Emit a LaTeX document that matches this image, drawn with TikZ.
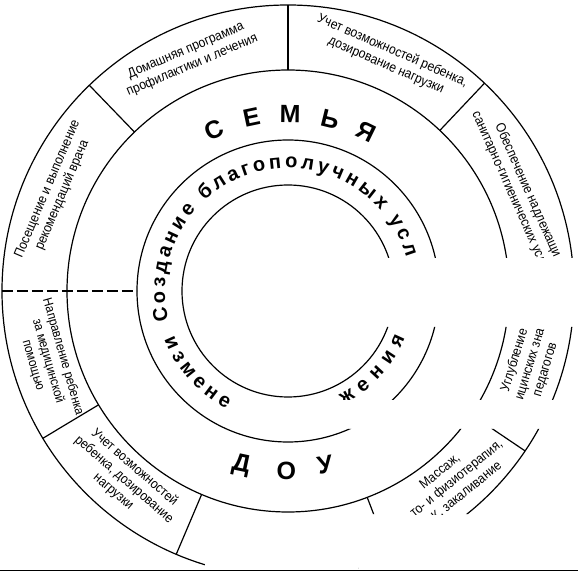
\documentclass[tikz,border=0pt]{standalone}
\usepackage{fontspec}
\setmainfont{Liberation Sans}
\newfontfamily\narrowfont[FakeStretch=0.9]{Liberation Sans}
\usetikzlibrary{decorations.text}
\begin{document}
\begin{tikzpicture}[x=1pt,y=1pt,
  ring/.style={line width=1.2pt},
  lbl/.style={font=\narrowfont\fontsize{13.5}{16}\selectfont, align=center, inner sep=0pt},
  big/.style={font=\bfseries\fontsize{25}{25}\selectfont, inner sep=0pt},
  arctext/.style={decorate, decoration={text along path, text align={fit to path}}}]
\useasboundingbox (-288,-281) rectangle (290,291);
\begin{scope}[even odd rule]
\clip (-288,-281) -- (290,-281) -- (290,291) -- (-288,291) -- cycle
  (60,-36) -- (60,33) -- (300,33) -- (300,-36) -- cycle
  (-53,-138) -- (-53,-109) -- (300,-109) -- (300,-138) -- cycle
  (70,-300) -- (70,-223) -- (300,-223) -- (300,-300) -- cycle
  (-83,-300) -- (-83,-268) -- (70,-268) -- (70,-300) -- cycle;
% rings
\draw[ring] (0,0) circle[radius=286];
\draw[ring] (0,0) circle[radius=221];
\draw[ring] (0,0) circle[radius=151];
\draw[ring] (0,0) circle[radius=106];
% sector separators
\foreach \a in {134,90,46.6,-34,-69,-113,-149} \draw[ring] (\a:221) -- (\a:286);
\draw[ring, dash pattern=on 11pt off 4pt] (180:286) -- (180:151);
% outer ring texts
\node[lbl, rotate=23] (dom) at (113:253) {Домашняя программа\\профилактики и лечения};
\node[lbl, rotate=-23.5] (uch1) at (66.5:254) {Учет возможностей ребенка,\\дозирование нагрузки};
\node[lbl, rotate=-66] (obe) at (22:252) {Обеспечение надлежащи\phantom{х}\\санитарно-гигиенических усл\phantom{овий}};
\node[lbl, rotate=73] (ugl) at (-17:253) {Углубление\\\phantom{мед}ицинских зна\phantom{ний}\\педагогов};
\node[lbl, rotate=39] (mas) at (-50:252) {Массаж,\\\phantom{фи}то- и физиотерапия,\\\phantom{ЛФ}К, закаливание};
\node[lbl, rotate=-41] (uch2) at (229:250) {Учет возможностей\\ребенка, дозирование\\нагрузки};
\node[lbl, rotate=-74, font=\narrowfont\fontsize{13}{15.5}\selectfont] (nap) at (196.3:250) {Направление ребенка\\за медицинской\\помощью};
\node[lbl, rotate=67] (pos) at (157:253) {Посещение и выполнение\\рекомендаций врача};
% big labels
\node[big, rotate=24.6] (s1) at (114.6:177) {С};
\node[big, rotate=11.9] (s2) at (101.9:177) {Е};
\node[big, rotate=-0.7] (s3) at (89.3:177) {М};
\node[big, rotate=-13.8] (s4) at (76.2:177) {Ь};
\node[big, rotate=-26.1] (s5) at (63.9:177) {Я};
\node[big, rotate=-12] (d1) at (255:181) {Д};
\node[big, rotate=0] (d2) at (269.5:180) {О};
\node[big, rotate=10] (d3) at (282:178) {У};
% inner arc texts
\path[arctext, decoration={text={|\bfseries\fontsize{20}{20}\selectfont|Создание благополучных усл}}]
  (194:123) arc[start angle=194, end angle=16, radius=123];
\path[arctext, decoration={text={|\bfseries\fontsize{20}{20}\selectfont|измене}}]
  (201.5:133) arc[start angle=201.5, end angle=242.5, radius=133];
\path[arctext, decoration={text={|\bfseries\fontsize{20}{20}\selectfont|жения}}]
  (296:126) arc[start angle=296, end angle=338, radius=126];
\end{scope}
\draw[line width=1pt] (-288,-279.5) coordinate (bl) -- (290,-279.5) coordinate (br);
\end{tikzpicture}
\end{document}
